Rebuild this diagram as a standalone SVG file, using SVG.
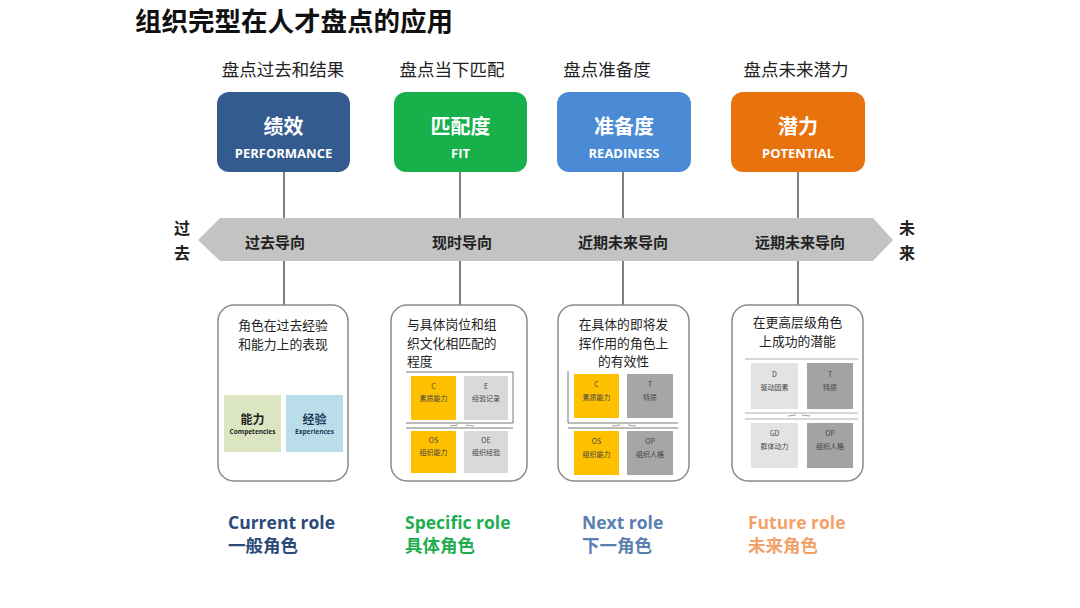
<svg xmlns="http://www.w3.org/2000/svg" width="1080" height="608" viewBox="0 0 1080 608">
<style>
.cjk{font-family:"Noto Sans CJK SC","Noto Sans",sans-serif}
.title{font-size:26.5px;font-weight:700;fill:#111}
.top{font-size:17.5px;fill:#222;text-anchor:middle}
.bh{font-size:20px;font-weight:700;fill:#fff;text-anchor:middle}
.be{font-family:"Open Sans","Noto Sans",sans-serif;font-size:13px;font-weight:700;fill:#fff;text-anchor:middle}
.band{font-size:15px;font-weight:700;fill:#222;text-anchor:middle}
.side{font-size:16px;font-weight:700;fill:#222;text-anchor:middle}
.card{fill:#fff;stroke:#8a8a8a;stroke-width:1.5}
.ct{font-size:12.8px;fill:#222}
.mini{font-size:7px;fill:#444;text-anchor:middle}
.frame{stroke:#555;stroke-width:0.8;fill:none}
.conn{stroke:#808080;stroke-width:2}
.role{font-family:"Open Sans","Noto Sans",sans-serif;font-size:17.5px;font-weight:700}
.rolec{font-size:17.5px;font-weight:700}
</style>
<rect width="1080" height="608" fill="#fff"/>
<text class="cjk title" x="135" y="31">组织完型在人才盘点的应用</text>

<g id="connectors">
<line class="conn" x1="284" y1="172" x2="284" y2="306"/>
<line class="conn" x1="460" y1="172" x2="460" y2="306"/>
<line class="conn" x1="623" y1="172" x2="623" y2="306"/>
<line class="conn" x1="798" y1="172" x2="798" y2="306"/>
</g>

<g id="timeline">
<polygon points="198,240 220,218 873,218 893,240 873,261 220,261" fill="#c3c3c3"/>
<text class="cjk band" x="275" y="248">过去导向</text>
<text class="cjk band" x="462" y="248">现时导向</text>
<text class="cjk band" x="623" y="248">近期未来导向</text>
<text class="cjk band" x="800" y="248">远期未来导向</text>
<text class="cjk side" x="182" y="234">过</text>
<text class="cjk side" x="182" y="259">去</text>
<text class="cjk side" x="907" y="234">未</text>
<text class="cjk side" x="907" y="259">来</text>
</g>

<g id="performance">
<text class="cjk top" x="283" y="76">盘点过去和结果</text>
<rect x="217" y="92" width="133" height="80" rx="12" fill="#335b8e"/>
<text class="cjk bh" x="283.5" y="134">绩效</text>
<text class="be" x="283.5" y="158">PERFORMANCE</text>
</g>
<g id="fit">
<text class="cjk top" x="452" y="76">盘点当下匹配</text>
<rect x="394" y="92" width="133" height="80" rx="12" fill="#17b04b"/>
<text class="cjk bh" x="460.5" y="134">匹配度</text>
<text class="be" x="460.5" y="158">FIT</text>
</g>
<g id="readiness">
<text class="cjk top" x="607" y="76">盘点准备度</text>
<rect x="557" y="92" width="134" height="80" rx="12" fill="#4b8bd6"/>
<text class="cjk bh" x="624" y="134">准备度</text>
<text class="be" x="624" y="158">READINESS</text>
</g>
<g id="potential">
<text class="cjk top" x="796" y="76">盘点未来潜力</text>
<rect x="731" y="92" width="134" height="80" rx="12" fill="#e8720c"/>
<text class="cjk bh" x="798" y="134">潜力</text>
<text class="be" x="798" y="158">POTENTIAL</text>
</g>

<g id="card-current">
<rect class="card" x="218" y="305" width="130" height="176" rx="16"/>
<text class="cjk ct" x="283" y="330" text-anchor="middle">角色在过去经验</text>
<text class="cjk ct" x="283" y="348.5" text-anchor="middle">和能力上的表现</text>
<rect x="224" y="395" width="57" height="57" fill="#dce5c2"/>
<rect x="286" y="395" width="57" height="57" fill="#b9dde9"/>
<text class="cjk" x="252.5" y="424" font-size="12" font-weight="700" fill="#222" text-anchor="middle">能力</text>
<text x="252.5" y="434" font-family="Open Sans,sans-serif" font-size="6.5" font-weight="700" fill="#222" text-anchor="middle">Competencies</text>
<text class="cjk" x="314.5" y="424" font-size="12" font-weight="700" fill="#1f3b5a" text-anchor="middle">经验</text>
<text x="314.5" y="434" font-family="Open Sans,sans-serif" font-size="6.5" font-weight="700" fill="#1f3b5a" text-anchor="middle">Experiences</text>
</g>

<g id="card-specific">
<rect class="card" x="391" y="305" width="136" height="176" rx="16"/>
<text class="cjk ct" x="407" y="329">与具体岗位和组</text>
<text class="cjk ct" x="407" y="347.5">织文化相匹配的</text>
<text class="cjk ct" x="407" y="366">程度</text>
<path class="frame" d="M406 372 H513 V423 H406 M406 428 H513"/>
<path d="M450 426 L458 425 M466 425 L474 426" stroke="#888" stroke-width="0.8"/>
<rect x="411" y="376" width="45" height="44" fill="#ffc000"/>
<rect x="464" y="376" width="44" height="44" fill="#d9d9d9"/>
<rect x="411" y="431" width="45" height="42" fill="#ffc000"/>
<rect x="464" y="431" width="44" height="42" fill="#d9d9d9"/>
<text class="cjk mini" x="433.5" y="389">C</text>
<text class="cjk mini" x="433.5" y="401">素质能力</text>
<text class="cjk mini" x="486" y="389">E</text>
<text class="cjk mini" x="486" y="401">经验记录</text>
<text class="cjk mini" x="433.5" y="443">OS</text>
<text class="cjk mini" x="433.5" y="455">组织能力</text>
<text class="cjk mini" x="486" y="443">OE</text>
<text class="cjk mini" x="486" y="455">组织经验</text>
</g>

<g id="card-next">
<rect class="card" x="558" y="305" width="131" height="176" rx="16"/>
<text class="cjk ct" x="623.5" y="329" text-anchor="middle">在具体的即将发</text>
<text class="cjk ct" x="623.5" y="347.5" text-anchor="middle">挥作用的角色上</text>
<text class="cjk ct" x="623.5" y="366" text-anchor="middle">的有效性</text>
<path class="frame" d="M568 371 V423 H678 M568 428 H678"/>
<path d="M612 426 L620 425 M628 425 L636 426" stroke="#888" stroke-width="0.8"/>
<rect x="574" y="374" width="45" height="44" fill="#ffc000"/>
<rect x="627" y="374" width="46" height="44" fill="#a6a6a6"/>
<rect x="574" y="431" width="45" height="44" fill="#ffc000"/>
<rect x="627" y="431" width="46" height="44" fill="#a6a6a6"/>
<text class="cjk mini" x="596.5" y="387">C</text>
<text class="cjk mini" x="596.5" y="400">素质能力</text>
<text class="cjk mini" x="650" y="387">T</text>
<text class="cjk mini" x="650" y="400">特质</text>
<text class="cjk mini" x="596.5" y="444">OS</text>
<text class="cjk mini" x="596.5" y="457">组织能力</text>
<text class="cjk mini" x="650" y="444">OP</text>
<text class="cjk mini" x="650" y="457">组织人格</text>
</g>

<g id="card-future">
<rect class="card" x="732" y="305" width="131" height="176" rx="16"/>
<text class="cjk ct" x="797.5" y="327" text-anchor="middle">在更高层级角色</text>
<text class="cjk ct" x="797.5" y="345.5" text-anchor="middle">上成功的潜能</text>
<path d="M745 359 H858 M745 413 H858 M745 419 H858" stroke="#999" stroke-width="0.8" fill="none"/>
<path d="M788 416 L796 415 M802 415 L810 416" stroke="#888" stroke-width="0.8"/>
<rect x="751" y="363" width="47" height="46" fill="#e3e3e3"/>
<rect x="807" y="363" width="46" height="46" fill="#a3a3a3"/>
<rect x="751" y="423" width="47" height="45" fill="#e3e3e3"/>
<rect x="807" y="423" width="46" height="45" fill="#a3a3a3"/>
<text class="cjk mini" x="774.5" y="377">D</text>
<text class="cjk mini" x="774.5" y="390">驱动因素</text>
<text class="cjk mini" x="830" y="377">T</text>
<text class="cjk mini" x="830" y="390">特质</text>
<text class="cjk mini" x="774.5" y="436">GD</text>
<text class="cjk mini" x="774.5" y="449">群体动力</text>
<text class="cjk mini" x="830" y="436">OP</text>
<text class="cjk mini" x="830" y="449">组织人格</text>
</g>

<g id="roles">
<text class="role" x="228" y="529" fill="#2b4a78">Current role</text>
<text class="cjk rolec" x="228" y="552" fill="#2b4a78">一般角色</text>
<text class="role" x="405" y="529" fill="#1fae4f">Specific role</text>
<text class="cjk rolec" x="405" y="552" fill="#1fae4f">具体角色</text>
<text class="role" x="582" y="529" fill="#5a7fb0">Next role</text>
<text class="cjk rolec" x="582" y="552" fill="#5a7fb0">下一角色</text>
<text class="role" x="748" y="529" fill="#f2a268">Future role</text>
<text class="cjk rolec" x="748" y="552" fill="#f2a268">未来角色</text>
</g>
</svg>
